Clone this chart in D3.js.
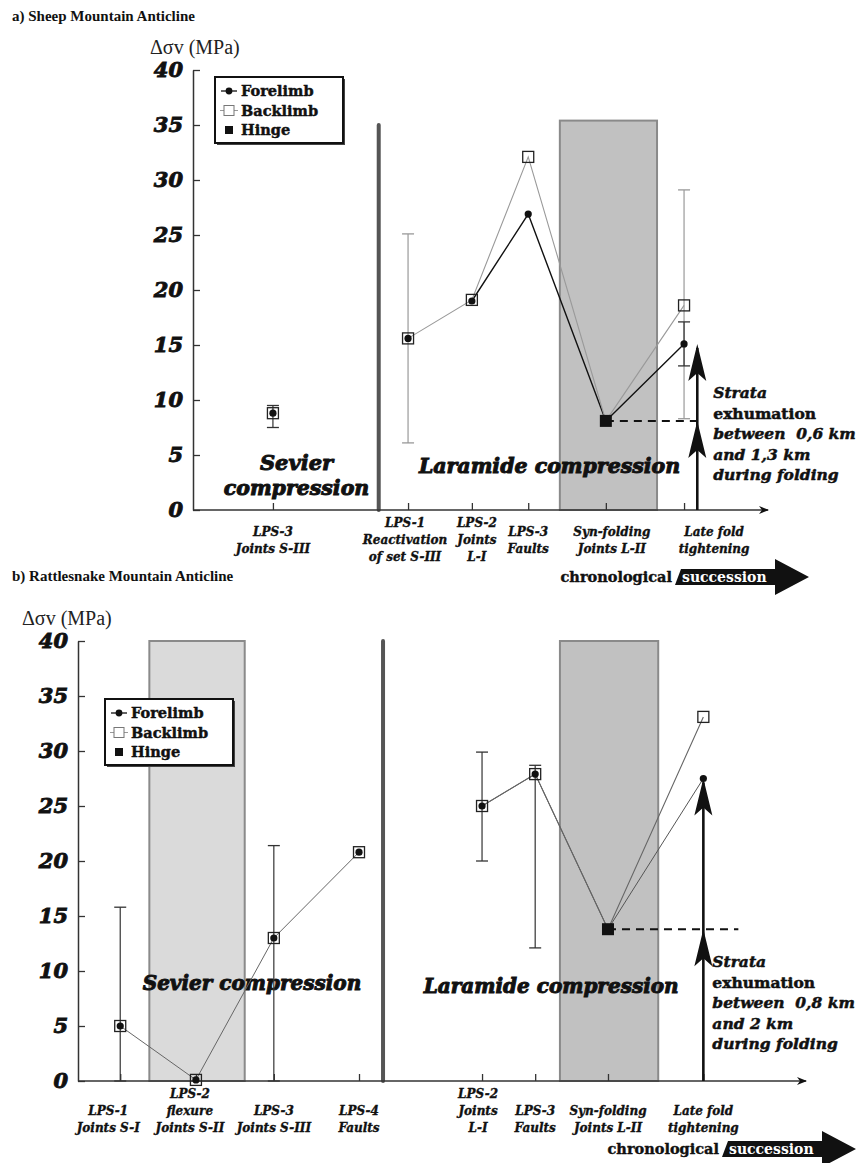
<!DOCTYPE html>
<html>
<head>
<meta charset="utf-8">
<script src="https://cdn.jsdelivr.net/npm/d3@7"></script>
<style>
  html, body { margin: 0; padding: 0; background: #fff; }
  svg { display: block; }
  .heavy { font-family: "DejaVu Serif", serif; font-weight: bold; font-style: italic; }
  .cat { font-family: "DejaVu Serif", serif; font-weight: bold; font-style: italic; font-size: 12px; fill: #111; stroke: #111; stroke-width: 0.35px; }
  .ytick text { font-family: "DejaVu Serif", serif; font-weight: bold; font-style: italic; font-size: 21px; fill: #111; stroke: #111; stroke-width: 0.9px; }
  .legend text { font-family: "DejaVu Serif", serif; font-weight: bold; font-size: 14.5px; fill: #111; stroke: #111; stroke-width: 0.45px; }
</style>
</head>
<body>
<svg id="chart" width="858" height="1163"></svg>
<script>
// ---------- Panel a: Sheep Mountain Anticline ----------
const stagesA = ["LPS-3|Joints S-III", "LPS-1|Reactivation|of set S-III", "LPS-2|Joints|L-I",
                 "LPS-3|Faults", "Syn-folding|Joints L-II", "Late fold|tightening"];
// relative position of each stage along the chronological axis (0-100)
const chronoA = [13.9, 37.4, 48.5, 58.3, 71.8, 85.4];
const phaseA = ["Sevier", "Laramide", "Laramide", "Laramide", "Laramide", "Laramide"];
const forelimbA = [8.8, 15.6, 19.0, 26.9, null, 15.1];
const backlimbA = [8.8, 15.6, 19.1, 32.1, null, 18.6];
const hingeA = [null, null, null, null, 8.1, null];
const foreErrA = [[7.5, 9.5], null, null, null, null, [13.1, 17.1]];
const backErrA = [null, [6.1, 25.1], null, null, null, [8.3, 29.1]];
const boundaryA = 32.3;                 // Sevier / Laramide limit
const bandsA = [{ from: 63.8, to: 80.7, top: 35.4, tone: "dark" }];
const exhumA = { chrono: 87.7, text: ["Strata", "exhumation", "between\u00a0\u00a00,6 km", "and 1,3 km", "during folding"] };

// ---------- Panel b: Rattlesnake Mountain Anticline ----------
const stagesB = ["LPS-1|Joints S-I", "LPS-2|flexure|Joints S-II", "LPS-3|Joints S-III", "LPS-4|Faults",
                 "LPS-2|Joints|L-I", "LPS-3|Faults", "Syn-folding|Joints L-II", "Late fold|tightening"];
const chronoB = [5.8, 16.2, 26.9, 38.6, 55.5, 62.8, 72.8, 85.9];
const phaseB = ["Sevier", "Sevier", "Sevier", "Sevier", "Laramide", "Laramide", "Laramide", "Laramide"];
const forelimbB = [5.0, 0.1, 13.0, 20.8, 25.0, 27.9, null, 27.5];
const backlimbB = [5.0, 0.1, 13.0, 20.8, 25.0, 27.9, null, 33.1];
const hingeB = [null, null, null, null, null, null, 13.8, null];
const foreErrB = [[0, 15.8], null, [0, 21.4], null, [20.0, 29.9], [12.1, 28.7], null, null];
const backErrB = [null, null, null, null, null, null, null, null];
const boundaryB = 41.9;
const bandsB = [{ from: 9.8, to: 22.9, top: 40, tone: "light" },
                { from: 66.2, to: 79.7, top: 40, tone: "dark" }];
const exhumB = { chrono: 85.9, text: ["Strata", "exhumation", "between\u00a0\u00a00,8 km", "and 2 km", "during folding"] };

const yTicks = [0, 5, 10, 15, 20, 25, 30, 35, 40];
const legendItems = ["Forelimb", "Backlimb", "Hinge"];

const svg = d3.select("#chart");
svg.append("rect").attr("width", 858).attr("height", 1163).attr("fill", "#fff");

const defs = svg.append("defs");
defs.append("marker").attr("id", "axisArrow").attr("viewBox", "0 0 10 10")
  .attr("refX", 9).attr("refY", 5).attr("markerWidth", 10).attr("markerHeight", 10)
  .attr("markerUnits", "userSpaceOnUse").attr("orient", "auto")
  .append("path").attr("d", "M0,1 L10,5 L0,9 L3,5 Z").attr("fill", "#111");

function drawPanel(cfg) {
  const g = svg.append("g");
  const x = d3.scaleLinear().domain([0, 100]).range([cfg.x0, cfg.x1]);
  const y = d3.scaleLinear().domain([0, 40]).range([cfg.y0, cfg.y1]);

  // title and unit
  svg.append("text").attr("x", 12).attr("y", cfg.titleY)
    .attr("font-family", "Liberation Serif, serif").attr("font-weight", "bold").attr("font-size", 15)
    .attr("fill", "#111").text(cfg.title);
  svg.append("text").attr("x", cfg.unitX).attr("y", cfg.unitY)
    .attr("font-family", "Liberation Serif, serif").attr("font-size", 20).attr("fill", "#222")
    .text("\u0394\u03c3v (MPa)");

  // shaded stages
  cfg.bands.forEach(b => {
    g.append("rect").attr("x", x(b.from)).attr("y", y(b.top))
      .attr("width", x(b.to) - x(b.from)).attr("height", y(0) - y(b.top))
      .attr("fill", b.tone === "dark" ? "#c1c1c1" : "#dadada")
      .attr("stroke", "#8a8a8a").attr("stroke-width", 2);
  });

  // Sevier / Laramide limit
  g.append("line").attr("x1", x(cfg.boundary)).attr("x2", x(cfg.boundary))
    .attr("y1", y(cfg.boundaryTop)).attr("y2", y(0))
    .attr("stroke", "#555").attr("stroke-width", 4).attr("stroke-linecap", "round");

  // phase names
  cfg.phaseLabels.forEach(p => g.append("text").attr("class", "heavy")
    .attr("x", x(p.chrono)).attr("y", y(p.value)).attr("text-anchor", "middle")
    .attr("font-size", p.size).attr("fill", "#111").attr("stroke", "#111").attr("stroke-width", 1)
    .text(p.text));

  // y axis
  const yAxis = d3.axisLeft(y).tickValues(yTicks).tickSizeInner(-7).tickSizeOuter(0).tickPadding(10);
  const ya = g.append("g").attr("class", "ytick").attr("transform", `translate(${cfg.x0},0)`).call(yAxis);
  ya.select(".domain").attr("stroke", "#333").attr("stroke-width", 1.5);
  ya.selectAll(".tick line").attr("stroke", "#333").attr("stroke-width", 1.3);

  // x axis
  const xAxis = d3.axisBottom(x).tickValues(cfg.chrono).tickSize(-7).tickFormat("");
  const xa = g.append("g").attr("transform", `translate(0,${cfg.y0})`).call(xAxis);
  xa.select(".domain").remove();
  xa.selectAll(".tick line").attr("stroke", "#333").attr("stroke-width", 1.3);
  g.append("line").attr("x1", cfg.x0).attr("x2", x(100)).attr("y1", y(0)).attr("y2", y(0))
    .attr("stroke", "#333").attr("stroke-width", 1.6).attr("marker-end", "url(#axisArrow)");

  // stage labels
  cfg.stages.forEach((s, i) => {
    const lines = s.split("|");
    const lx = x(cfg.chrono[i]) + (cfg.labelShift[i] || 0);
    const t = g.append("text").attr("class", "cat").attr("text-anchor", "middle")
      .attr("x", lx).attr("y", cfg.y0 + (lines.length === 3 ? cfg.label3Top : cfg.label2Top));
    lines.forEach((l, k) => t.append("tspan").attr("x", lx).attr("dy", k === 0 ? 0 : 17).text(l));
  });

  // series lines (hinge closes both limbs)
  const idxL = cfg.chrono.map((c, i) => i).filter(i => cfg.phase[i] === "Laramide");
  const idxS = cfg.chrono.map((c, i) => i).filter(i => cfg.phase[i] === "Sevier");
  const line = d3.line().x(d => x(d[0])).y(d => y(d[1]));
  const seriesPts = (vals, idx) => idx.map(i => [cfg.chrono[i], vals[i] != null ? vals[i] : cfg.hinge[i]])
    .filter(d => d[1] != null);
  if (cfg.connectSevier) {
    g.append("path").attr("d", line(seriesPts(cfg.back, idxS))).attr("fill", "none")
      .attr("stroke", cfg.backColor).attr("stroke-width", 1);
  }
  g.append("path").attr("d", line(seriesPts(cfg.fore, idxL.slice(cfg.foreSkip)))).attr("fill", "none")
    .attr("stroke", cfg.foreColor).attr("stroke-width", cfg.foreWidth);
  g.append("path").attr("d", line(seriesPts(cfg.back, idxL))).attr("fill", "none")
    .attr("stroke", cfg.backColor).attr("stroke-width", 1.1);

  // error bars
  const errBar = (i, r, color) => {
    const cx = x(cfg.chrono[i]);
    g.append("line").attr("x1", cx).attr("x2", cx).attr("y1", y(r[0])).attr("y2", y(r[1]))
      .attr("stroke", color).attr("stroke-width", 1.2);
    [r[0], r[1]].forEach(v => g.append("line").attr("x1", cx - 6).attr("x2", cx + 6)
      .attr("y1", y(v)).attr("y2", y(v)).attr("stroke", color).attr("stroke-width", 1.3));
  };
  cfg.backErr.forEach((r, i) => { if (r) errBar(i, r, cfg.backErrColor); });
  cfg.foreErr.forEach((r, i) => { if (r) errBar(i, r, cfg.foreErrColor); });

  // dashed hinge level + exhumation arrow
  const hi = cfg.hinge.findIndex(v => v != null);
  const ax = x(cfg.exhum.chrono);
  const li = cfg.chrono.length - 1;
  g.append("line").attr("x1", x(cfg.chrono[hi])).attr("x2", ax + cfg.dashExtra)
    .attr("y1", y(cfg.hinge[hi])).attr("y2", y(cfg.hinge[hi]))
    .attr("stroke", "#111").attr("stroke-width", 2).attr("stroke-dasharray", "8,6");
  g.append("line").attr("x1", ax).attr("x2", ax).attr("y1", y(0)).attr("y2", y(cfg.fore[li]) + 4)
    .attr("stroke", "#111").attr("stroke-width", 2.6);
  const head = tipY => `M${ax},${tipY} L${ax + 9},${tipY + 37} L${ax},${tipY + 29} L${ax - 9},${tipY + 37} Z`;
  [cfg.fore[li], cfg.hinge[hi]].forEach(v => g.append("path").attr("d", head(y(v))).attr("fill", "#111"));
  const st = g.append("text").attr("class", "heavy").attr("font-size", 15.5).attr("fill", "#111")
    .attr("stroke", "#111").attr("stroke-width", 0.5)
    .attr("x", ax + cfg.exhumDx).attr("y", cfg.exhumY);
  cfg.exhum.text.forEach((l, k) => st.append("tspan").attr("x", ax + cfg.exhumDx).attr("dy", k ? 20.5 : 0)
    .attr("font-style", k === 1 ? "normal" : "italic").text(l));

  // markers
  cfg.chrono.forEach((c, i) => {
    const cx = x(c);
    if (cfg.back[i] != null) g.append("rect").attr("x", cx - 5.5).attr("y", y(cfg.back[i]) - 5.5)
      .attr("width", 11).attr("height", 11).attr("fill", "none").attr("stroke", "#222").attr("stroke-width", 1.3);
    if (cfg.fore[i] != null) g.append("circle").attr("cx", cx).attr("cy", y(cfg.fore[i])).attr("r", 3.6)
      .attr("fill", "#111");
    if (cfg.hinge[i] != null) g.append("rect").attr("x", cx - 6).attr("y", y(cfg.hinge[i]) - 6)
      .attr("width", 12).attr("height", 12).attr("fill", "#111");
  });

  // legend
  const lg = g.append("g").attr("class", "legend").attr("transform", `translate(${cfg.legendX},${cfg.legendY})`);
  lg.append("rect").attr("x", 2).attr("y", 2).attr("width", 128).attr("height", 66).attr("fill", "#444");
  lg.append("rect").attr("width", 128).attr("height", 66).attr("fill", "#fff").attr("stroke", "#111").attr("stroke-width", 2);
  legendItems.forEach((name, k) => {
    const ly = 14 + k * 19.5;
    if (k === 0) {
      lg.append("line").attr("x1", 6).attr("x2", 22).attr("y1", ly).attr("y2", ly).attr("stroke", "#111").attr("stroke-width", 1.3);
      lg.append("circle").attr("cx", 14).attr("cy", ly).attr("r", 3.4).attr("fill", "#111");
    } else if (k === 1) {
      lg.append("line").attr("x1", 5).attr("x2", 23).attr("y1", ly).attr("y2", ly).attr("stroke", "#999").attr("stroke-width", 1);
      lg.append("rect").attr("x", 9).attr("y", ly - 5).attr("width", 10).attr("height", 10)
        .attr("fill", "#fff").attr("stroke", "#777").attr("stroke-width", 1);
    } else {
      lg.append("rect").attr("x", 10).attr("y", ly - 4).attr("width", 8).attr("height", 8).attr("fill", "#111");
    }
    lg.append("text").attr("x", 26).attr("y", ly + 5).text(name);
  });

  // chronological succession arrow
  const cs = cfg.succession;
  svg.append("text").attr("x", cs.x - 3).attr("y", cs.y + 5).attr("text-anchor", "end")
    .attr("font-family", "DejaVu Serif, serif").attr("font-weight", "bold").attr("font-size", 14.5)
    .attr("fill", "#111").attr("stroke", "#111").attr("stroke-width", 0.4).text("chronological");
  const bx = cs.x, hx = cs.x + 100, tx = cs.x + 134, yc = cs.y;
  svg.append("path").attr("fill", "#111")
    .attr("d", `M${bx + 6},${yc - 8} L${hx},${yc - 8} L${hx},${yc - 18} L${tx},${yc} L${hx},${yc + 18} L${hx},${yc + 8} L${bx},${yc + 8} Z`);
  svg.append("text").attr("x", bx + 7).attr("y", yc + 5)
    .attr("font-family", "DejaVu Serif, serif").attr("font-weight", "bold").attr("font-size", 14)
    .attr("fill", "#fff").text("succession");
}

drawPanel({
  title: "a) Sheep Mountain Anticline", titleY: 21, unitX: 150, unitY: 54,
  x0: 193, x1: 768, y0: 510, y1: 70,
  stages: stagesA, chrono: chronoA, phase: phaseA, fore: forelimbA, back: backlimbA, hinge: hingeA,
  foreErr: foreErrA, backErr: backErrA, foreErrColor: "#333", backErrColor: "#999",
  foreColor: "#111", foreWidth: 1.4, foreSkip: 1, backColor: "#999", connectSevier: false,
  boundary: boundaryA, boundaryTop: 35, bands: bandsA,
  phaseLabels: [{ text: "Sevier", chrono: 18, value: 3.6, size: 21 },
                { text: "compression", chrono: 18, value: 1.35, size: 20.5 },
                { text: "Laramide compression", chrono: 62, value: 3.4, size: 20.5 }],
  labelShift: [0, -3, 5, 0, 6, 30], label2Top: 26, label3Top: 17,
  exhum: exhumA, exhumDx: 16, exhumY: 398, dashExtra: 6,
  legendX: 215, legendY: 77,
  succession: { x: 675, y: 577 }
});

drawPanel({
  title: "b) Rattlesnake Mountain Anticline", titleY: 581, unitX: 22, unitY: 625,
  x0: 78, x1: 806, y0: 1081, y1: 641,
  stages: stagesB, chrono: chronoB, phase: phaseB, fore: forelimbB, back: backlimbB, hinge: hingeB,
  foreErr: foreErrB, backErr: backErrB, foreErrColor: "#333", backErrColor: "#999",
  foreColor: "#555", foreWidth: 1, foreSkip: 0, backColor: "#666", connectSevier: true,
  boundary: boundaryB, boundaryTop: 40, bands: bandsB,
  phaseLabels: [{ text: "Sevier compression", chrono: 23.9, value: 8.3, size: 20 },
                { text: "Laramide compression", chrono: 65, value: 8.0, size: 20 }],
  labelShift: [-12, -6, 0, 0, -4, 0, 0, 0], label2Top: 34, label3Top: 17,
  exhum: exhumB, exhumDx: 9, exhumY: 967, dashExtra: 35,
  legendX: 105, legendY: 699,
  succession: { x: 722, y: 1149 }
});
</script>
</body>
</html>
